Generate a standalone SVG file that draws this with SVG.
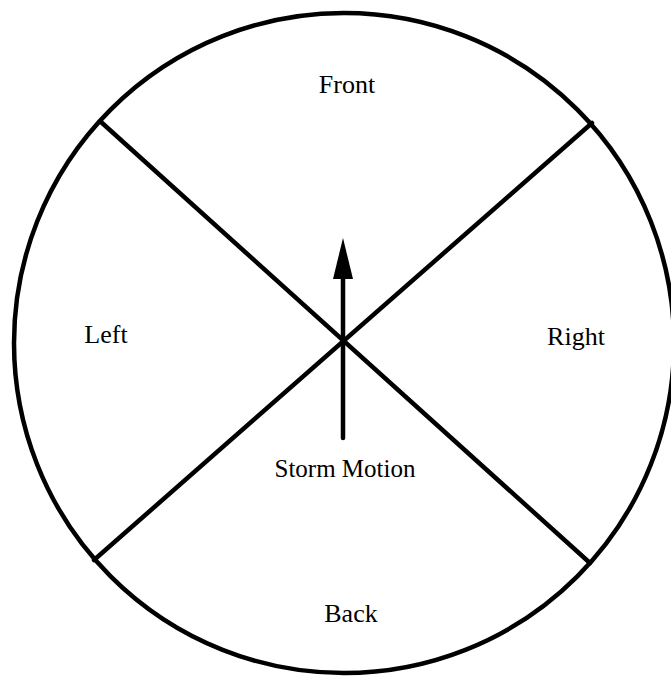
<svg xmlns="http://www.w3.org/2000/svg" width="671" height="679" viewBox="0 0 671 679">
<style>
.ln{stroke:#000;stroke-width:4.5;fill:none;stroke-linecap:round}
.lbl{font-family:"Liberation Serif","Times New Roman",serif;font-size:26px;fill:#000;text-anchor:middle}
</style>
<rect width="671" height="679" fill="#fff"/>
<g id="circle">
<circle cx="344" cy="343" r="330" class="ln"/>
</g>
<g id="connectors">
<line class="ln" x1="101" y1="122" x2="590" y2="563"/>
<line class="ln" x1="592" y1="123" x2="94" y2="560"/>
<line class="ln" x1="343" y1="438" x2="343" y2="275"/>
<polygon points="343,238 333,279 353,279" fill="#000"/>
</g>
<g id="front"><text class="lbl" x="347" y="93">Front</text></g>
<g id="left"><text class="lbl" x="106" y="343">Left</text></g>
<g id="right"><text class="lbl" x="576" y="345">Right</text></g>
<g id="back"><text class="lbl" x="351" y="622">Back</text></g>
<g id="storm"><text class="lbl" x="345" y="477" style="font-size:25px">Storm Motion</text></g>
</svg>
